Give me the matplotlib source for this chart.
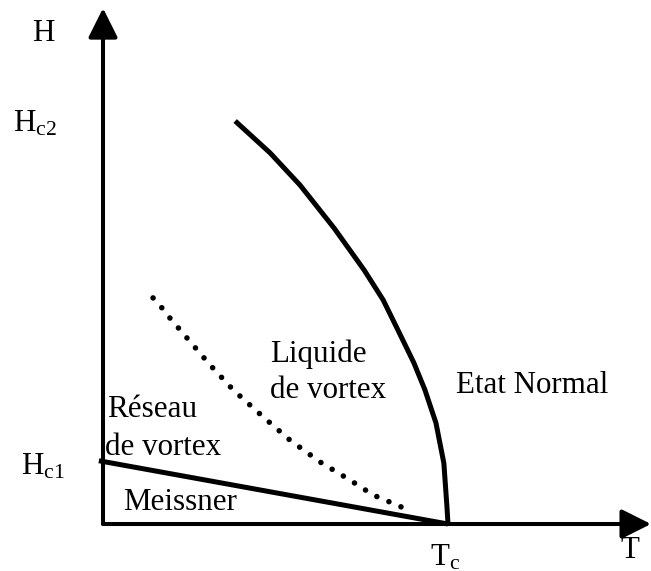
import numpy as np
import matplotlib
matplotlib.use('Agg')
import matplotlib.pyplot as plt

plt.rcParams['font.family'] = ['Liberation Serif', 'DejaVu Serif']
plt.rcParams['mathtext.fontset'] = 'custom'
plt.rcParams['mathtext.rm'] = 'Liberation Serif'
plt.rcParams['mathtext.it'] = 'Liberation Serif:italic'

# Datos (T en unidades de Tc, H en unidades de Hc2)

# Hc2(T)
T_c2 = [0.383, 0.484, 0.571, 0.670, 0.757, 0.812, 0.855, 0.901, 0.933, 0.965, 0.988, 0.997, 1.0]
H_c2 = [1.0, 0.921, 0.841, 0.734, 0.630, 0.556, 0.481, 0.400, 0.333, 0.251, 0.151, 0.042, 0.0]

# Hc1(T)
T_c1 = [-0.012, 1.0]
H_c1 = [0.157, 0.0]

# linea de fusion del reseau (punteada)
T_fus = [0.145, 0.171, 0.194, 0.310, 0.377, 0.464, 0.542, 0.629, 0.716, 0.783, 0.852, 0.884]
H_fus = [0.561, 0.536, 0.511, 0.395, 0.333, 0.266, 0.208, 0.154, 0.109, 0.072, 0.047, 0.035]

fs = 22.3

fig = plt.figure(figsize=(6.51, 5.71), dpi=100)
ax = fig.add_axes([0, 0, 1, 1])
ax.set_xlim(-0.2986, 1.5884)
ax.set_ylim(-0.1166, 1.3002)
ax.axis('off')

# Ejes con flechas
flecha = dict(arrowstyle='-|>,head_length=0.5,head_width=0.25', lw=2.9,
              color='black', mutation_scale=36, shrinkA=0, shrinkB=0)
ax.annotate('', xy=(0, 1.28), xytext=(0, 0), arrowprops=flecha)
ax.annotate('', xy=(1.5884, 0), xytext=(0, 0), arrowprops=flecha)

# Curvas
ax.plot(T_c2, H_c2, color='black', lw=3.6, solid_capstyle='butt',
        solid_joinstyle='round')
ax.plot(T_c1, H_c1, color='black', lw=3.6, solid_capstyle='butt')
ax.plot(T_fus, H_fus, color='black', lw=4.0, linestyle=(0, (0.01, 2.35)),
        dash_capstyle='round')

# Textos
def txt(x, y, s):
    ax.text(x, y, s, fontsize=fs, ha='left', va='baseline')

txt(-0.206, 1.199, 'H')
txt(-0.261, 0.973, r'$\mathrm{H}_{\mathrm{c2}}$')
txt(-0.238, 0.122, r'$\mathrm{H}_{\mathrm{c1}}$')
txt(0.012, 0.266, 'Réseau')
txt(0.006, 0.171, 'de vortex')
txt(0.058, 0.035, 'Meissner')
txt(0.484, 0.402, 'Liquide')
txt(0.484, 0.313, 'de vortex')
txt(1.023, 0.325, 'Etat Normal')
txt(0.948, -0.102, r'$\mathrm{T}_{\mathrm{c}}$')
txt(1.499, -0.084, 'T')

fig.savefig('out.png', dpi=100)
